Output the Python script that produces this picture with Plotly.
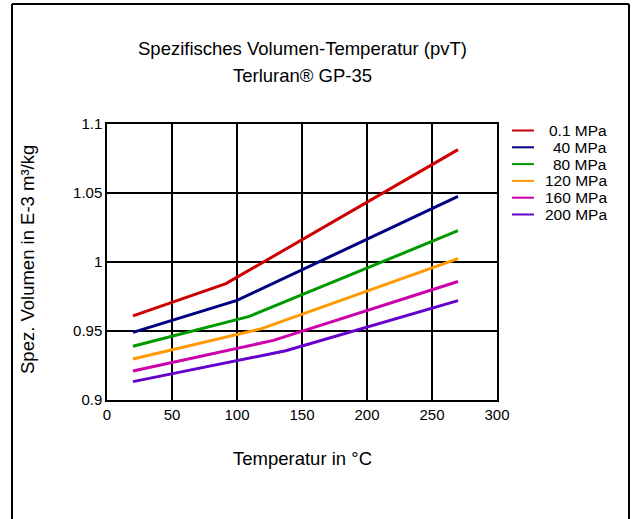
import plotly.graph_objects as go

temps_01 = [20, 91.5, 270]
vol_01 = [0.961, 0.9843, 1.0814]
temps_40 = [20, 100, 270]
vol_40 = [0.949, 0.9722, 1.0475]
temps_80 = [20, 109.5, 270]
vol_80 = [0.939, 0.9606, 1.0227]
temps_120 = [20, 119, 270]
vol_120 = [0.9297, 0.9517, 1.0024]
temps_160 = [20, 128, 270]
vol_160 = [0.921, 0.9432, 0.9859]
temps_200 = [20, 137.5, 270]
vol_200 = [0.9133, 0.9357, 0.972]

series_names = ["0.1 MPa", "40 MPa", "80 MPa", "120 MPa", "160 MPa", "200 MPa"]
series_x = [temps_01, temps_40, temps_80, temps_120, temps_160, temps_200]
series_y = [vol_01, vol_40, vol_80, vol_120, vol_160, vol_200]
colors = ["#cc0000", "#000080", "#009900", "#ff9900", "#cc00aa", "#6600cc"]

x_ticks = [0, 50, 100, 150, 200, 250, 300]
y_ticks = [0.9, 0.95, 1.0, 1.05, 1.1]
y_tick_text = ["0.9", "0.95", "1", "1.05", "1.1"]

FONT = "Liberation Sans, Arial, sans-serif"

W, H = 637, 519
L, R_EDGE, T, B_EDGE = 107, 497, 124, 400  # plot area in page pixels
PW = R_EDGE - L
PH = B_EDGE - T


def px(xp):
    return (xp - L) / PW


def py(yp):
    return (B_EDGE - yp) / PH


fig = go.Figure()
for name, xs, ys, c in zip(series_names, series_x, series_y, colors):
    fig.add_trace(go.Scatter(x=xs, y=ys, mode="lines", name=name,
                             line=dict(color=c, width=3), showlegend=False,
                             hoverinfo="skip"))

shapes = []
annotations = []
# outer frame (drawn as separate lines)
fx0, fx1, fy0, fy1 = px(12), px(629), py(4), py(540)
for (a, b, c_, d) in [(fx0, fy0, fx1, fy0), (fx0, fy0, fx0, fy1), (fx1, fy0, fx1, fy1)]:
    shapes.append(dict(type="line", xref="paper", yref="paper",
                       x0=a, y0=b, x1=c_, y1=d,
                       line=dict(color="black", width=2), layer="above"))
# legend
for i, (name, c) in enumerate(zip(series_names, colors)):
    ypix = 130.5 + i * 16.8
    yp = py(ypix)
    shapes.append(dict(type="line", xref="paper", yref="paper",
                       x0=px(512), x1=px(534), y0=yp, y1=yp,
                       line=dict(color=c, width=2)))
    annotations.append(dict(xref="paper", yref="paper", x=px(608.5), y=yp,
                            text=name, showarrow=False, xanchor="right", yanchor="middle",
                            font=dict(size=15.5, color="black", family=FONT)))
# titles
annotations.append(dict(xref="paper", yref="paper", x=0.5, y=py(49),
                        text="Spezifisches Volumen-Temperatur (pvT)", showarrow=False,
                        xanchor="center", yanchor="middle",
                        font=dict(size=18.5, color="black", family=FONT)))
annotations.append(dict(xref="paper", yref="paper", x=0.5, y=py(76),
                        text="Terluran® GP-35", showarrow=False,
                        xanchor="center", yanchor="middle",
                        font=dict(size=18.5, color="black", family=FONT)))
annotations.append(dict(xref="paper", yref="paper", x=0.5, y=py(458),
                        text="Temperatur in °C", showarrow=False,
                        xanchor="center", yanchor="middle",
                        font=dict(size=18.5, color="black", family=FONT)))
annotations.append(dict(xref="paper", yref="paper", x=px(27), y=py(260),
                        text="Spez. Volumen in E-3 m³/kg", showarrow=False, textangle=-90,
                        xanchor="center", yanchor="middle",
                        font=dict(size=18.5, color="black", family=FONT)))

fig.update_layout(
    width=W, height=H,
    margin=dict(l=L, r=W - R_EDGE, t=T, b=H - B_EDGE),
    paper_bgcolor="white", plot_bgcolor="white",
    font=dict(family=FONT, size=15, color="black"),
    shapes=shapes, annotations=annotations,
    showlegend=False,
)
fig.update_xaxes(range=[0, 300], tickvals=x_ticks, showgrid=True, gridcolor="black",
                 gridwidth=1.5, zeroline=False, showline=True, linecolor="black",
                 linewidth=1.5, mirror=True, ticks="", tickfont=dict(size=15))
fig.update_yaxes(range=[0.9, 1.1], tickvals=y_ticks, ticktext=y_tick_text, showgrid=True,
                 gridcolor="black", gridwidth=1.5, zeroline=False, showline=True,
                 linecolor="black", linewidth=1.5, mirror=True, ticks="",
                 tickfont=dict(size=15))

fig.write_html("out.html",
               config={"displayModeBar": False},
               post_script="document.body.style.margin='0';document.body.style.overflow='hidden';")
